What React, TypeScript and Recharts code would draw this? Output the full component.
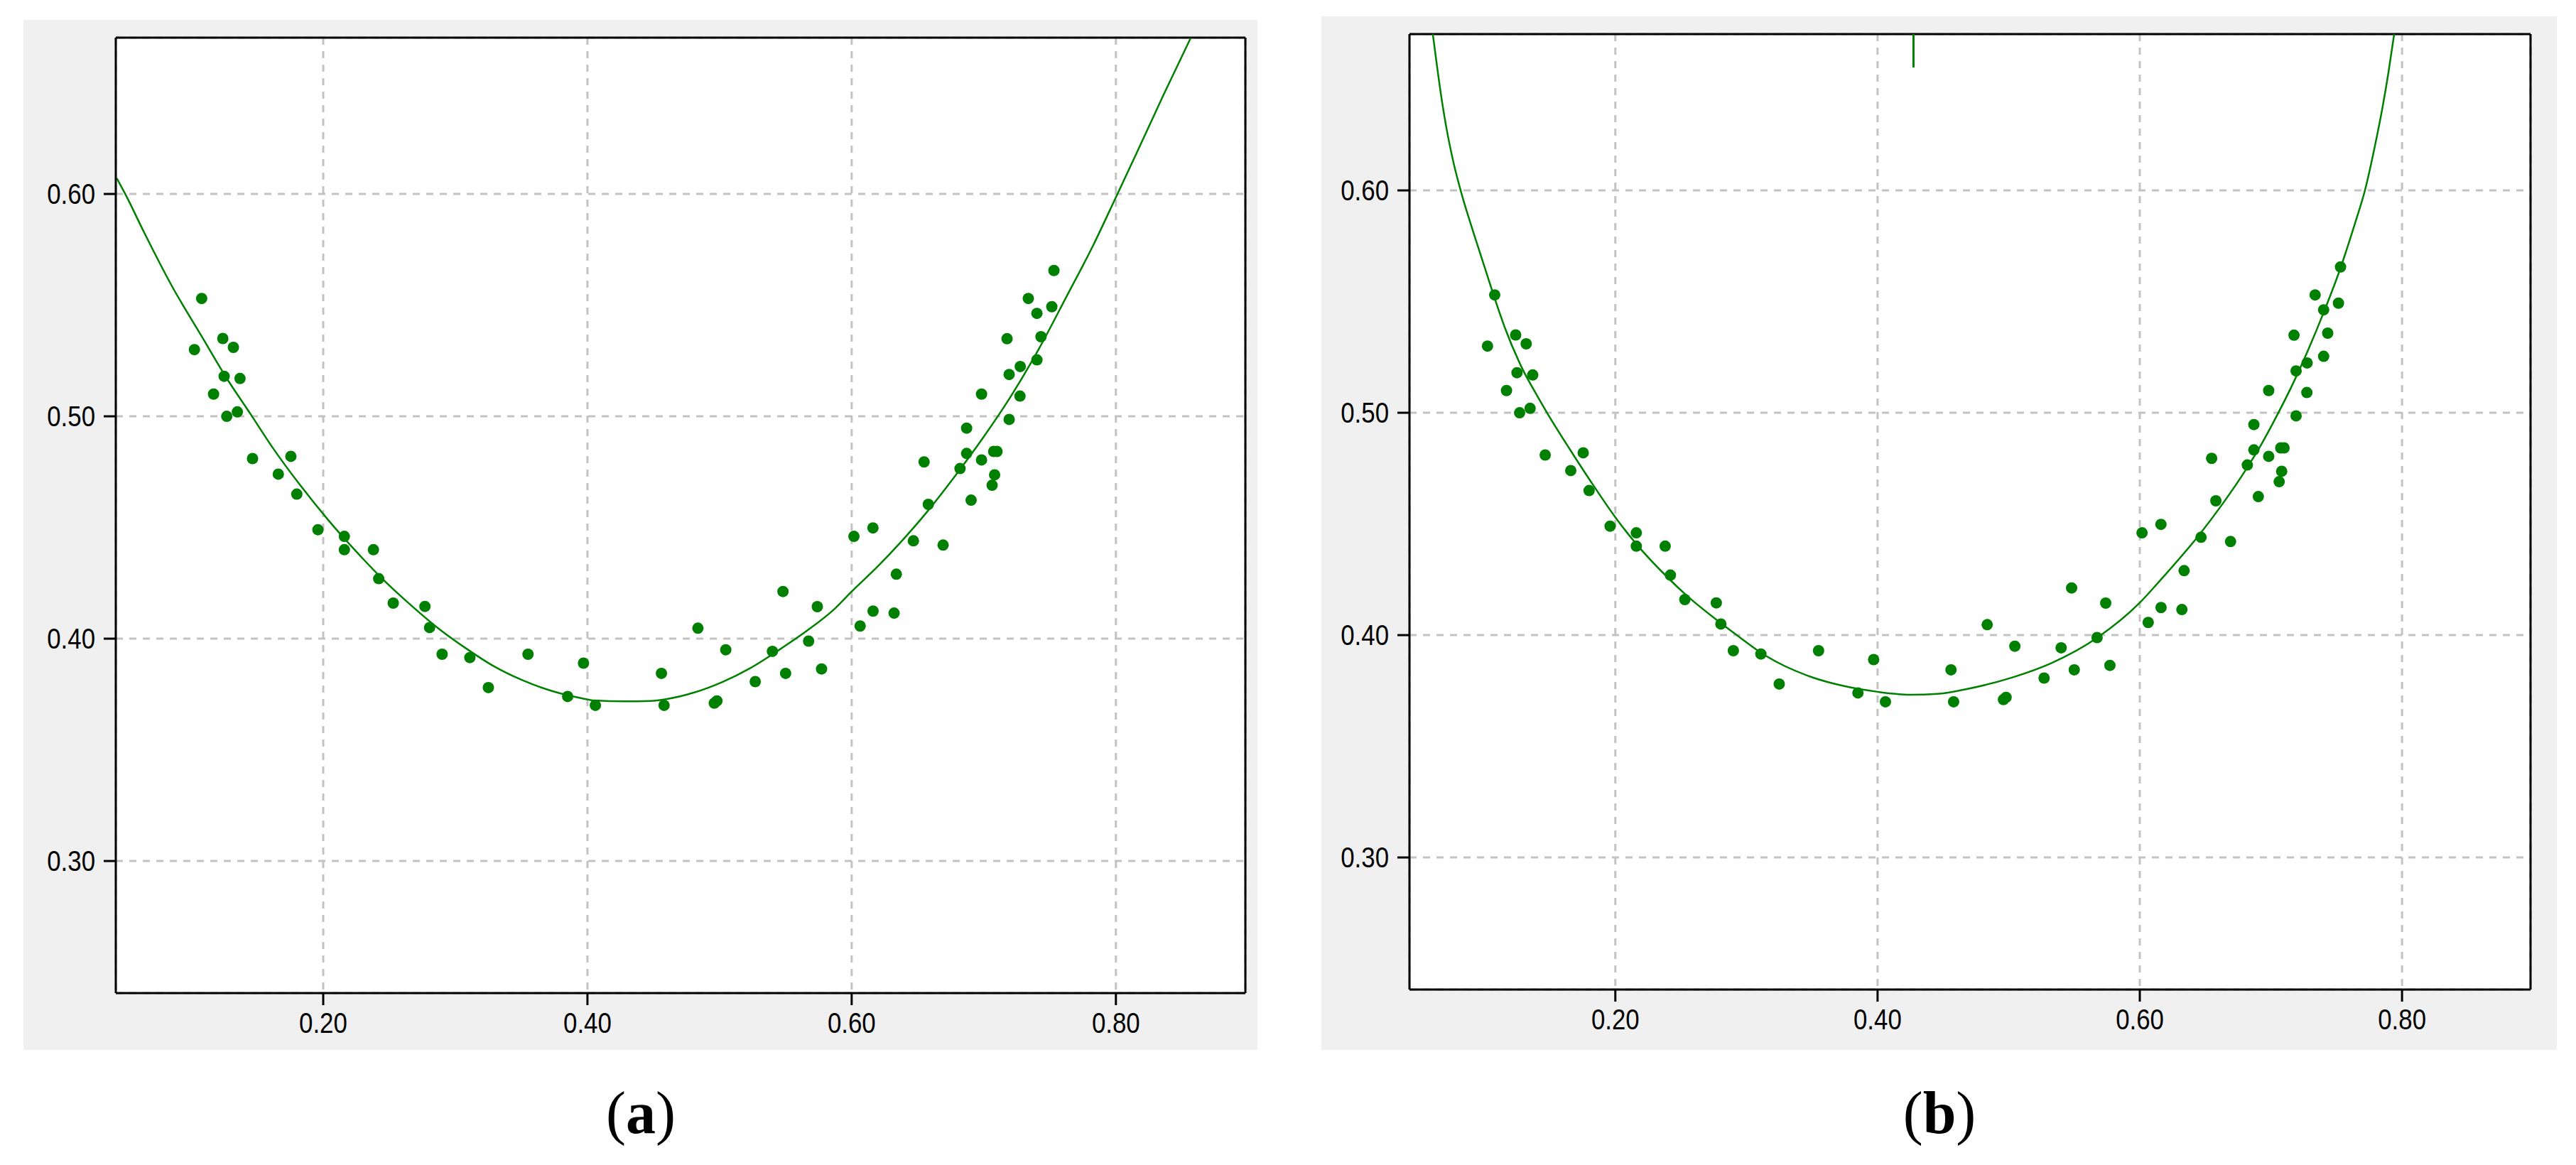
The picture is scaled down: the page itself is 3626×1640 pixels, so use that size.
import { ComposedChart, Scatter, Line, XAxis, YAxis, CartesianGrid, ReferenceLine } from 'recharts';

// measured points (same set in both panels)
const MEASURED_X = [
  0.108, 0.124, 0.1025, 0.132, 0.125, 0.137, 0.117, 0.127, 0.135, 0.1465, 0.1755, 0.166,
  0.18, 0.196, 0.216, 0.216, 0.238, 0.242, 0.253, 0.277, 0.2805, 0.29, 0.311, 0.325,
  0.355, 0.385, 0.397, 0.406, 0.456, 0.458, 0.4836, 0.496, 0.498, 0.5047, 0.527, 0.54,
  0.548, 0.55, 0.5674, 0.574, 0.5772, 0.6017, 0.6064, 0.6161, 0.6162, 0.6321, 0.6338, 0.6467,
  0.6548, 0.658, 0.6692, 0.682, 0.687, 0.687, 0.6904, 0.6983, 0.6983, 0.7063, 0.7075, 0.7082,
  0.71, 0.7176, 0.7192, 0.7192, 0.7274, 0.7276, 0.7337, 0.7402, 0.7402, 0.7433, 0.7515, 0.7531,
];
const MEASURED_Y = [
  0.553, 0.535, 0.53, 0.531, 0.518, 0.517, 0.51, 0.5, 0.502, 0.481, 0.482, 0.474,
  0.465, 0.449, 0.446, 0.44, 0.44, 0.427, 0.416, 0.4145, 0.405, 0.393, 0.3915, 0.378,
  0.393, 0.374, 0.389, 0.37, 0.3844, 0.37, 0.4047, 0.371, 0.372, 0.395, 0.3807, 0.3943,
  0.4212, 0.3844, 0.3989, 0.4144, 0.3864, 0.446, 0.4057, 0.4498, 0.4124, 0.4115, 0.429, 0.444,
  0.4795, 0.4604, 0.4421, 0.4765, 0.4947, 0.4833, 0.4623, 0.51, 0.4804, 0.469, 0.4842, 0.4737,
  0.4842, 0.5349, 0.5188, 0.4986, 0.5091, 0.5224, 0.553, 0.5254, 0.5463, 0.5358, 0.5493, 0.5656,
];

// fitted curve, panel (a)
const FIT_A_X = [
  0.0438, 0.051, 0.0642, 0.086, 0.108, 0.126, 0.145, 0.1616, 0.1826, 0.2036, 0.2245, 0.2455,
  0.2665, 0.2874, 0.3084, 0.3294, 0.35, 0.3745, 0.3957, 0.4053, 0.4279, 0.4479, 0.4596, 0.4809,
  0.5021, 0.5234, 0.5447, 0.566, 0.5872, 0.6, 0.6201, 0.6368, 0.6577, 0.6787, 0.6996, 0.7205,
  0.7414, 0.7623, 0.7833, 0.8, 0.8146, 0.8356, 0.8565,
];
const FIT_A_Y = [
  0.607, 0.599, 0.583, 0.558, 0.536, 0.518, 0.501, 0.486, 0.469, 0.4535, 0.4395, 0.4265,
  0.415, 0.4045, 0.3955, 0.3875, 0.3815, 0.3762, 0.3732, 0.3722, 0.3718, 0.372, 0.3728, 0.3758,
  0.3805, 0.3868, 0.3948, 0.4035, 0.4135, 0.4212, 0.4327, 0.4432, 0.4575, 0.4735, 0.4905, 0.509,
  0.53, 0.5535, 0.5775, 0.5985, 0.617, 0.644, 0.67,
];

// fitted curve, panel (b)
const FIT_B_X = [
  0.0608, 0.0638, 0.0675, 0.0712, 0.0762, 0.0832, 0.0887, 0.0937, 0.1011, 0.1086, 0.1161, 0.1285,
  0.141, 0.1484, 0.1659, 0.1808, 0.2, 0.2157, 0.2406, 0.2531, 0.278, 0.2904, 0.3153, 0.3502,
  0.3751, 0.4, 0.4249, 0.4458, 0.4667, 0.5024, 0.5321, 0.5679, 0.6, 0.6155, 0.6452, 0.6631,
  0.681, 0.6929, 0.7048, 0.7167, 0.7286, 0.7405, 0.7524, 0.7643, 0.7717, 0.7792, 0.7851, 0.7896,
  0.794,
];
const FIT_B_Y = [
  0.6703, 0.6568, 0.6412, 0.628, 0.6135, 0.5975, 0.5868, 0.5775, 0.564, 0.5504, 0.5377, 0.5205,
  0.507, 0.4995, 0.483, 0.4695, 0.453, 0.4412, 0.4255, 0.4185, 0.4065, 0.401, 0.3905, 0.381,
  0.377, 0.3745, 0.3732, 0.3736, 0.3756, 0.3809, 0.3873, 0.399, 0.4146, 0.4246, 0.445, 0.459,
  0.4745, 0.486, 0.499, 0.513, 0.5285, 0.5455, 0.564, 0.5855, 0.6, 0.6197, 0.6373, 0.6529,
  0.6703,
];

// short vertical stroke near the top of panel (b)
const SPIKE_B_X = [0.4274, 0.4274];
const SPIKE_B_Y = [0.6703, 0.6553];

const X_TICKS = [0.2, 0.4, 0.6, 0.8];
const Y_TICKS = [0.3, 0.4, 0.5, 0.6];
const X_DOMAIN = [0.043, 0.898];
const Y_DOMAIN = [0.2406, 0.6703];

const GREEN = '#008000';
const TICK_FONT = "'Liberation Sans', Arial, sans-serif";

const zip = (xs: number[], ys: number[]) => xs.map((x, i) => ({ x, y: ys[i] }));
const measured = zip(MEASURED_X, MEASURED_Y);

const Dot = (p: any) => <circle cx={p.cx} cy={p.cy} r={8} fill={GREEN} />;

// the original uses a narrow bitmap font, so squeeze the labels a little
function NarrowTick(props: any) {
  const { x, y, payload, textAnchor, verticalAnchor } = props;
  const dy = verticalAnchor === 'start' ? '0.72em' : '0.36em';
  return (
    <g transform={`translate(${x},${y}) scale(0.87,1)`}>
      <text textAnchor={textAnchor} dy={dy} fill="#000" fontSize={40} fontFamily={TICK_FONT}>
        {Number(payload.value).toFixed(2)}
      </text>
    </g>
  );
}

interface PanelProps {
  fit: { x: number; y: number }[];
  spike?: { x: number; y: number }[];
  width: number;
  height: number;
  left: number;
  right: number;
  bottom: number;
}

function Panel({ fit, spike, width, height, left, right, bottom }: PanelProps) {
  const frame = { stroke: '#000', strokeWidth: 3 };
  return (
    <ComposedChart
      width={width}
      height={height}
      margin={{ top: 25, right, bottom: bottom - 60, left: 0 }}
      style={{ background: '#f0f0f0' }}
    >
      <CartesianGrid fill="#fff" fillOpacity={1} stroke="#c3c3c3" strokeWidth={3} strokeDasharray="10 9" />
      <XAxis
        type="number"
        dataKey="x"
        domain={X_DOMAIN}
        allowDataOverflow
        ticks={X_TICKS}
        height={60}
        tick={<NarrowTick />}
        tickSize={17}
        tickMargin={10}
        axisLine={frame}
        tickLine={frame}
      />
      <YAxis
        type="number"
        dataKey="y"
        domain={Y_DOMAIN}
        allowDataOverflow
        ticks={Y_TICKS}
        width={left}
        tick={<NarrowTick />}
        tickSize={17}
        tickMargin={12}
        axisLine={frame}
        tickLine={frame}
      />
      <ReferenceLine y={Y_DOMAIN[1]} stroke="#000" strokeWidth={3} />
      <ReferenceLine x={X_DOMAIN[1]} stroke="#000" strokeWidth={3} />
      <Line data={fit} dataKey="y" type="monotone" stroke={GREEN} strokeWidth={2.5} dot={false} activeDot={false} isAnimationActive={false} />
      {spike && (
        <Line data={spike} dataKey="y" type="linear" stroke={GREEN} strokeWidth={3} dot={false} activeDot={false} isAnimationActive={false} />
      )}
      <Scatter data={measured} dataKey="y" shape={Dot} isAnimationActive={false} />
    </ComposedChart>
  );
}

const captionStyle: React.CSSProperties = {
  position: 'absolute',
  width: 300,
  textAlign: 'center',
  fontFamily: "'Liberation Serif', 'Times New Roman', serif",
  fontSize: 84,
  lineHeight: '84px',
  color: '#000',
};

export default function App() {
  return (
    <div style={{ position: 'relative', width: 3626, height: 1640, background: '#fff', overflow: 'hidden' }}>
      <style>{'body{margin:0}'}</style>
      <div style={{ position: 'absolute', left: 33, top: 28 }}>
        <Panel fit={zip(FIT_A_X, FIT_A_Y)} width={1737} height={1450} left={130} right={17} bottom={80} />
      </div>
      <div style={{ position: 'absolute', left: 1860, top: 23 }}>
        <Panel
          fit={zip(FIT_B_X, FIT_B_Y)}
          spike={zip(SPIKE_B_X, SPIKE_B_Y)}
          width={1739}
          height={1455}
          left={124}
          right={37}
          bottom={85}
        />
      </div>
      <div style={{ ...captionStyle, left: 752, top: 1525 }}>
        (<b>a</b>)
      </div>
      <div style={{ ...captionStyle, left: 2580, top: 1525 }}>
        (<b>b</b>)
      </div>
    </div>
  );
}
